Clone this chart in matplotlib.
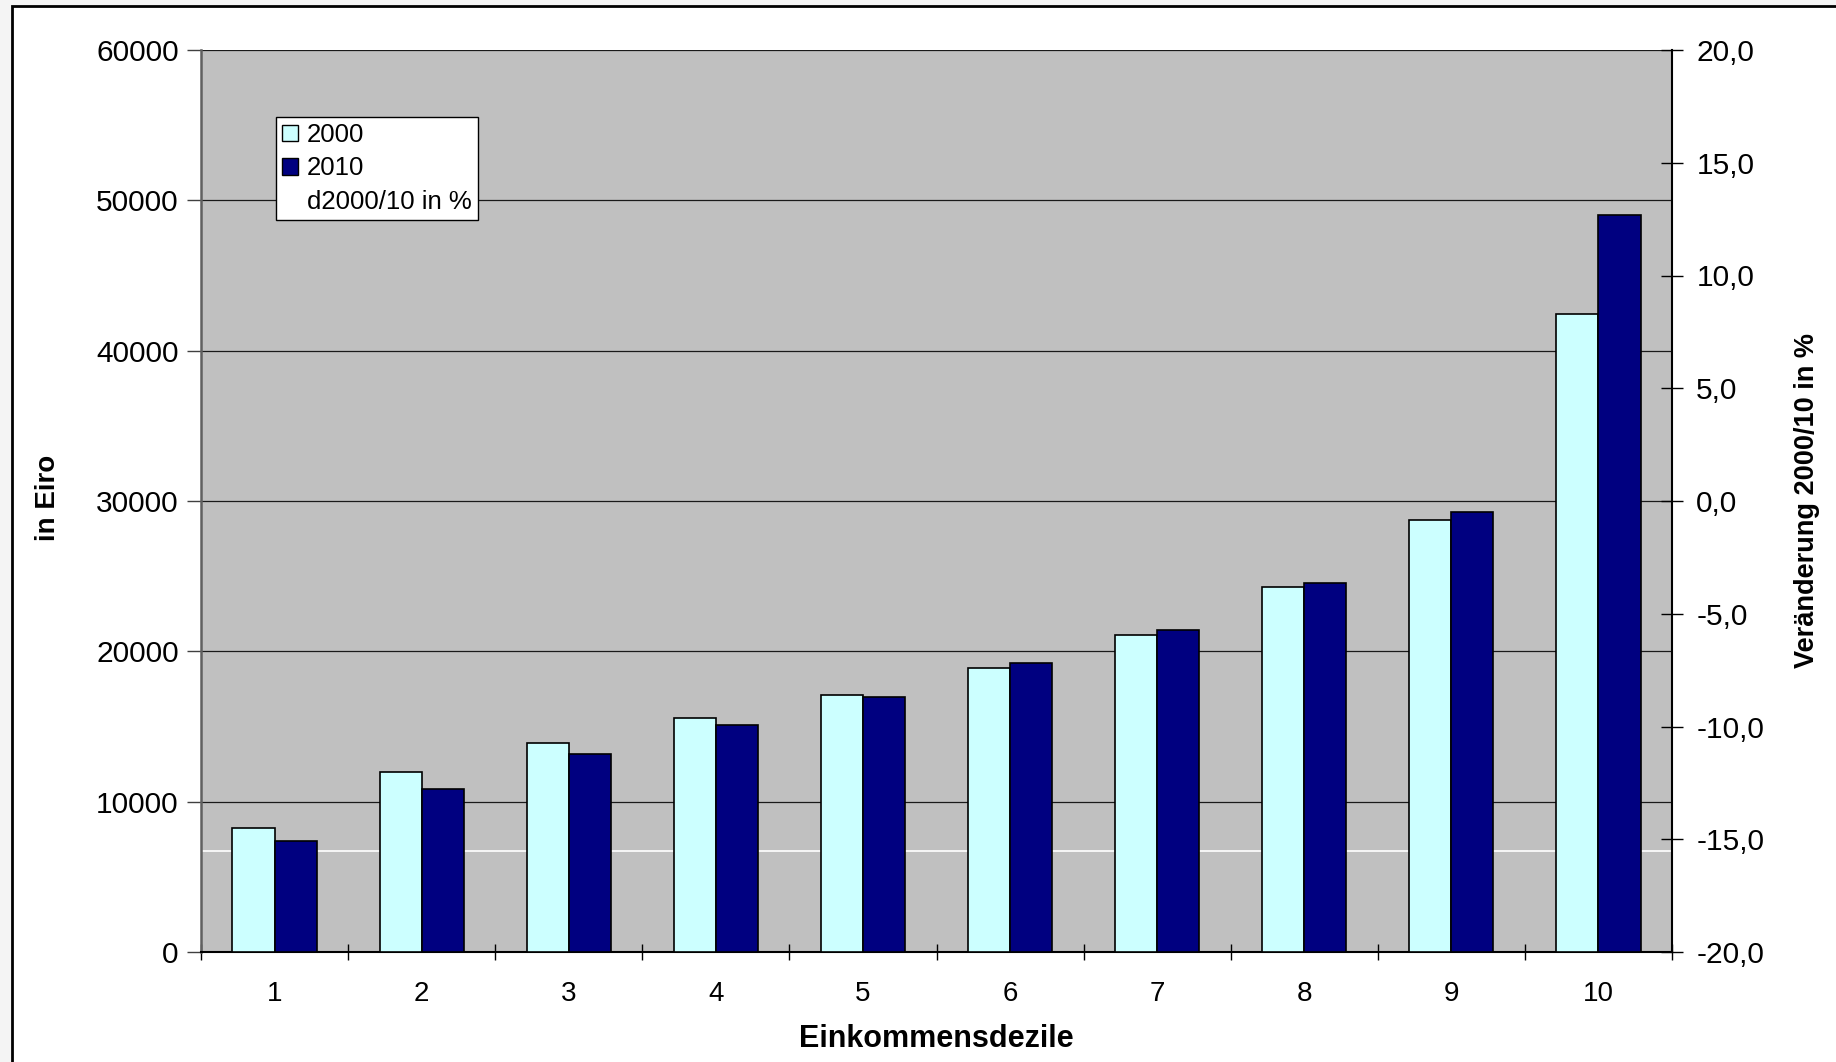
import matplotlib
matplotlib.use("Agg")
from matplotlib import pyplot as plt
from matplotlib.patches import Patch, Rectangle
from matplotlib.lines import Line2D
from matplotlib.ticker import FuncFormatter

# Data
deciles = [1, 2, 3, 4, 5, 6, 7, 8, 9, 10]
income_2000 = [8230, 11950, 13880, 15550, 17120, 18900, 21110, 24270, 28720, 42450]
income_2010 = [7400, 10830, 13150, 15100, 16950, 19210, 21400, 24550, 29280, 49020]
left_ticks = [0, 10000, 20000, 30000, 40000, 50000, 60000]
right_ticks = [-20, -15, -10, -5, 0, 5, 10, 15, 20]
change_line_eur = 6700  # white line of the d2000/10 series, in Euro scale

plt.rcParams['font.family'] = ['Liberation Sans', 'DejaVu Sans']


def main():
    fig = plt.figure(figsize=(18.36, 10.62), dpi=100, facecolor='#f4f4f4')

    # white chart area with black frame
    fig.patches.append(Rectangle((12 / 1836, -0.1), 1.2, 1.1 - 6 / 1062,
                                 transform=fig.transFigure, facecolor='white',
                                 edgecolor='black', linewidth=2, zorder=-10))

    ax = fig.add_axes([201 / 1836, 1 - 952 / 1062, 1471 / 1836, 902 / 1062])
    ax.set_facecolor('#c0c0c0')

    bar_w = 0.286
    ax.bar([d - bar_w / 2 for d in deciles], income_2000, width=bar_w,
           color='#ccffff', edgecolor='black', linewidth=1.2, zorder=3)
    ax.bar([d + bar_w / 2 for d in deciles], income_2010, width=bar_w,
           color='#000080', edgecolor='black', linewidth=1.2, zorder=3)
    ax.axhline(change_line_eur, color='white', linewidth=1.2, zorder=2)

    ax.set_xlim(0.5, 10.5)
    ax.set_ylim(0, 60000)
    ax.set_yticks(left_ticks)
    ax.yaxis.grid(True, color='#1a1a1a', linewidth=0.9, zorder=1)
    ax.set_axisbelow(True)

    # x ticks at category borders, labels in the middle
    ax.set_xticks([d + 0.5 for d in [0] + deciles])
    ax.set_xticklabels([])
    ax.set_xticks(deciles, minor=True)
    ax.set_xticklabels([str(d) for d in deciles], minor=True)
    ax.tick_params(axis='x', which='major', direction='inout', length=12, width=1)
    ax.tick_params(axis='x', which='minor', length=0, pad=21, labelsize=20)
    ax.tick_params(axis='y', direction='out', length=10, width=1, pad=6,
                   labelsize=21.5, color='#404040')

    for s in ['top', 'right']:
        ax.spines[s].set_visible(False)
    ax.spines['left'].set_color('#606060')
    ax.spines['left'].set_linewidth(1.8)
    ax.spines['bottom'].set_linewidth(1.5)

    ax.set_xlabel('Einkommensdezile', fontsize=22, fontweight='bold')
    ax.xaxis.set_label_coords(0.5, -0.080)
    ax.set_ylabel('in Eiro', fontsize=20, fontweight='bold')
    ax.yaxis.set_label_coords(-0.0955, 0.503)

    # secondary axis for the percentage change
    ax2 = ax.twinx()
    ax2.set_ylim(-20, 20)
    ax2.set_yticks(right_ticks)
    ax2.yaxis.set_major_formatter(FuncFormatter(lambda v, p: f"{v:.1f}".replace('.', ',')))
    ax2.tick_params(axis='y', direction='inout', length=16, width=1, pad=9.5, labelsize=21.5)
    for s in ['top', 'left', 'bottom']:
        ax2.spines[s].set_visible(False)
    ax2.spines['right'].set_linewidth(1.5)
    ax2.set_ylabel('Veränderung 2000/10 in %', fontsize=19.5, fontweight='bold', rotation=90)
    ax2.yaxis.set_label_coords(1.0826, 0.5)

    handles = [Patch(facecolor='#ccffff', edgecolor='black', linewidth=1),
               Patch(facecolor='#000080', edgecolor='black', linewidth=1),
               Line2D([0], [0], color='white', linewidth=1.2)]
    leg = ax2.legend(handles, ['2000', '2010', 'd2000/10 in %'],
                     loc='upper left', bbox_to_anchor=(0.051, 0.9257),
                     borderaxespad=0, fontsize=18.5, fancybox=False,
                     edgecolor='black', framealpha=1, handlelength=0.6,
                     handleheight=0.6, handletextpad=0.35, labelspacing=0.36,
                     borderpad=0.24)
    leg.get_frame().set_linewidth(1)

    fig.savefig('out.png', dpi=100, facecolor=fig.get_facecolor())


main()
